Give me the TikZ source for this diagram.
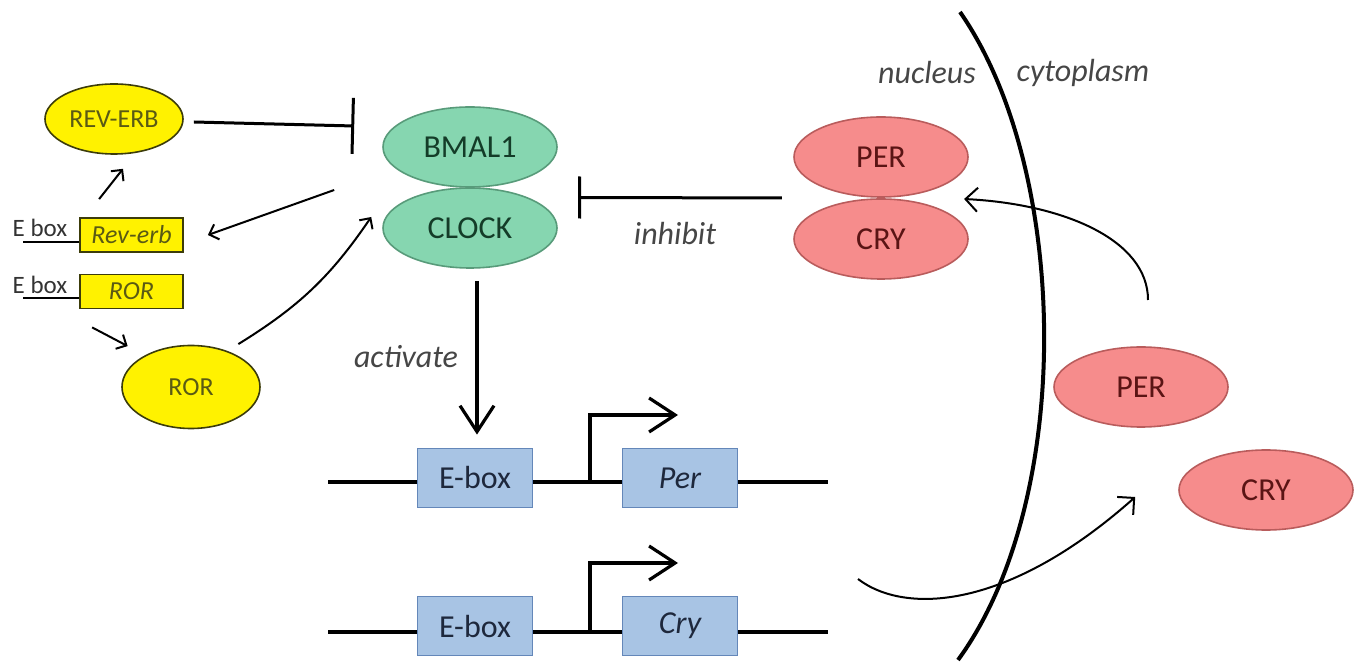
\documentclass[tikz,border=0pt]{standalone}
\usepackage{fontspec}
\setmainfont{Carlito}
\usepackage{tikz}
\usetikzlibrary{shapes.geometric}
\usetikzlibrary{arrows.meta, calc}

\definecolor{clkgreen}{RGB}{134,214,176}
\definecolor{clkedge}{RGB}{88,155,122}
\definecolor{clktext}{RGB}{20,60,40}
\definecolor{perpink}{RGB}{246,140,140}
\definecolor{peredge}{RGB}{185,92,92}
\definecolor{pertext}{RGB}{90,20,20}
\definecolor{ytext}{RGB}{90,90,20}
\definecolor{yedge}{RGB}{60,60,10}
\definecolor{boxblue}{RGB}{168,196,228}
\definecolor{boxedge}{RGB}{100,135,185}
\definecolor{boxtext}{RGB}{30,40,60}
\definecolor{lblgray}{RGB}{70,70,70}

\tikzset{
    prot/.style={ellipse, draw, line width=0.8pt, inner sep=0pt,
        minimum width=87pt, minimum height=40pt, font=\fontsize{16}{19}\selectfont},
    clockprot/.style={prot, fill=clkgreen, draw=clkedge, text=clktext},
    perprot/.style={prot, fill=perpink, draw=peredge, text=pertext},
    yprot/.style={ellipse, draw=yedge, fill=yellow, line width=0.8pt, inner sep=0pt,
        minimum width=69pt, minimum height=35pt, text=ytext, font=\fontsize{13}{15}\selectfont},
    ygene/.style={rectangle, draw=yedge, fill=yellow, line width=0.9pt, inner sep=0pt,
        minimum width=51.5pt, minimum height=17pt, text=ytext, font=\fontsize{13}{15}\selectfont\itshape},
    ebox/.style={font=\fontsize{12.5}{15}\selectfont, text=black!80},
    genebox/.style={rectangle, draw=boxedge, fill=boxblue, line width=0.9pt, inner sep=0pt,
        minimum width=57.5pt, minimum height=29.5pt, text=boxtext, font=\fontsize{16}{19}\selectfont},
    lbl/.style={text=lblgray, font=\fontsize{16}{19}\selectfont\itshape},
    dna/.style={line width=1.7pt},
    arr/.style={-{Straight Barb[length=4pt,width=8pt]}, line width=1pt},
    thinarr/.style={-{Straight Barb[length=6pt,width=12pt]}, line width=1pt},
    bigarr/.style={-{Straight Barb[length=13pt,width=17pt]}, line width=1.6pt},
}

\begin{document}
\begin{tikzpicture}[x=0.5pt, y=-0.5pt]
    \useasboundingbox (0,0) rectangle (1359,667);

    % Draw the DNA strands
    \draw[dna] (328,482) -- (828,482);
    \draw[dna] (328,632) -- (828,632);

    % Draw the gene boxes
    \node[genebox] (ebox1) at (475,478) {E-box};
    \node[genebox, font=\fontsize{16}{19}\selectfont\itshape] (pergene) at (680,478) {Per};
    \node[genebox] (ebox2) at (475,626) {E-box};
    \node[genebox, font=\fontsize{16}{19}\selectfont\itshape] (crygene) at (680,626) {Cry};

    % Draw the transcription start arrows
    \coordinate (tss1) at (590,482);
    \coordinate (tss2) at (590,632);
    \draw[dna, bigarr] (tss1) |- ++(88,-67);
    \draw[dna, bigarr] (tss2) |- ++(88,-69);

    % Draw the BMAL1/CLOCK and PER/CRY complexes
    \node[clockprot] (bmal) at (470,147) {BMAL1};
    \node[clockprot] (clock) at (470,228) {CLOCK};
    \node[perprot] (per) at (881,157) {PER};
    \node[perprot] (cry) at (881,239) {CRY};
    \node[perprot] (perc) at (1141,387) {PER};
    \node[perprot] (cryc) at (1266,490) {CRY};

    % Draw the REV-ERB / ROR loop
    \node[yprot] (reverb) at (114,119) {REV-ERB};
    \node[yprot, minimum height=41.5pt] (ror) at (191,387) {ROR};
    \node[ygene] (reverbgene) at (131.5,235) {Rev-erb};
    \node[ygene] (rorgene) at (131.5,291.5) {ROR};
    \node[ebox] (elbl1) at (40,228) {E box};
    \node[ebox] (elbl2) at (40,285) {E box};
    \coordinate (eline1) at (23,242);
    \coordinate (eline2) at (23,298);
    \draw[line width=1pt] (eline1) -- (eline1 -| reverbgene.west);
    \draw[line width=1pt] (eline2) -- (eline2 -| rorgene.west);

    \draw[arr] ($(reverbgene.north west)+(20,-18)$) -- ($(reverb.south)+(9,14)$);
    \draw[arr] ($(rorgene.south west)+(13,18)$) -- ($(ror.north west)+(-14,-11)$);
    \draw[arr] ($(clock.west)+(-48,-38)$) -- ($(reverbgene.east)+(24,0)$);
    \draw[arr] ($(ror.north east)+(-2,-13)$) to[bend right=12] ($(clock.west)+(-11,-11)$);
    \draw[-{Bar[width=28pt]}, line width=1.5pt] ($(reverb.east)+(10,3)$) -- ($(bmal.west)+(-28,-21)$);

    % Draw the activate / inhibit arrows
    \draw[bigarr] ($(clock.south)+(7,12)$) -- ($(ebox1.north)+(2,-13)$);
    \node[lbl] (actlbl) at (406,357) {activate};
    \draw[-{Bar[width=21pt]}, line width=1.5pt]
        ($(per.south west)!0.5!(cry.north west)+(-37,0)$) -- ($(bmal.south east)!0.5!(clock.north east)+(46,10)$);
    \node[lbl] (inhlbl) at (675,234) {inhibit};

    % Draw the nuclear membrane
    \draw[line width=2pt] (960,12) .. controls (1070,170) and (1075,500) .. (958,660);
    \node[lbl] (nuclbl) at (927,73) {nucleus};
    \node[lbl] (cytlbl) at (1083,73) {cytoplasm};

    % Draw the transport arrows
    \coordinate (perout) at (1148,300);
    \coordinate (cryout) at (858,579);
    \draw[thinarr] (perout) .. controls +(0,-60) and +(100,5) ..
        ($(per.south east)!0.5!(cry.north east)+(21,1)$);
    \draw[thinarr] (cryout) .. controls +(47,36) and +(-127,113) .. ($(cryc.west)+(-43,7)$);

\end{tikzpicture}
\end{document}
